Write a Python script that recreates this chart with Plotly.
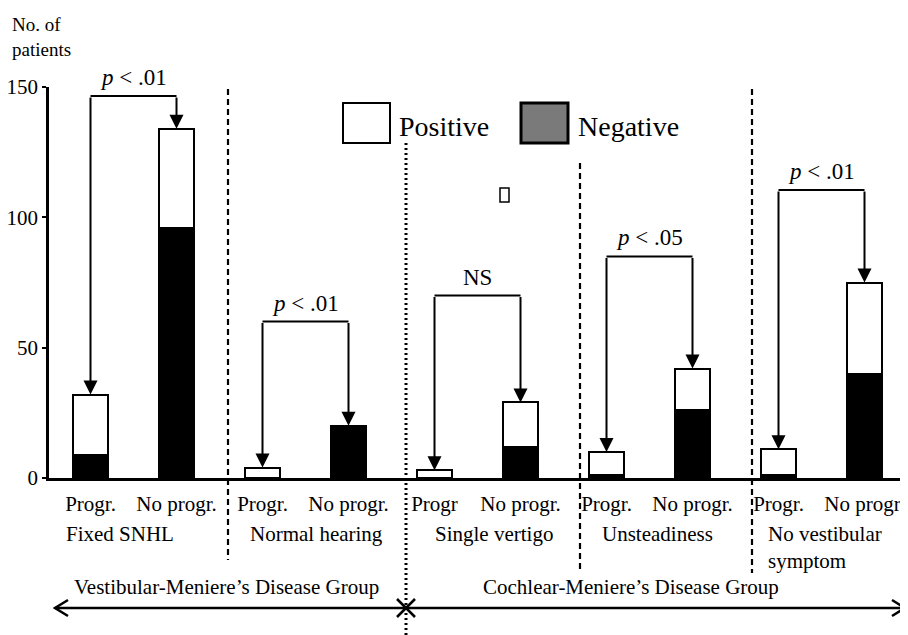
import plotly.graph_objects as go

# ---------------- data ----------------
bar_labels = ["Progr.", "No progr.", "Progr.", "No progr.", "Progr",
              "No progr.", "Progr.", "No progr.", "Progr.", "No progr."]
negative = [9, 96, 0, 20, 0, 12, 1, 26, 1, 40]
positive = [23, 38, 4, 0, 3, 17, 9, 16, 10, 35]
subgroups = ["Fixed SNHL", "Normal hearing", "Single vertigo", "Unsteadiness",
             "No vestibular<br>symptom"]
main_groups = ["Vestibular-Meniere\u2019s Disease Group", "Cochlear-Meniere\u2019s Disease Group"]
p_labels = ["<i>p</i> < .01", "<i>p</i> < .01", "NS", "<i>p</i> < .05", "<i>p</i> < .01"]
bracket_levels = [146.5, 60, 70, 85, 110.5]
y_ticks = [0, 50, 100, 150]

FONT = "Liberation Serif"
OFFX, OFFY = 8, 8                # default page body margin
W, H = 908 - OFFX, 635 - OFFY    # figure size
L, R, T, B = 49, 905, 87, 478    # plot area in page pixels


def px(xp):
    return (xp - L) / (R - L)


def py(yp):
    return (B - yp) / (B - T)


xs = list(range(len(bar_labels)))
totals = [n + p for n, p in zip(negative, positive)]

fig = go.Figure()
fig.add_trace(go.Bar(x=xs, y=negative, name="Negative", width=0.41,
                     marker=dict(color="black", line=dict(color="black", width=2))))
fig.add_trace(go.Bar(x=xs, y=positive, name="Positive", width=0.41,
                     marker=dict(color="white", line=dict(color="black", width=2))))

shapes = []
annotations = []

# brackets with arrows
for g, (lab, lev) in enumerate(zip(p_labels, bracket_levels)):
    i0, i1 = 2 * g, 2 * g + 1
    shapes.append(dict(type="line", xref="x", yref="y", x0=i0, x1=i1, y0=lev, y1=lev,
                       line=dict(color="black", width=2)))
    for i in (i0, i1):
        annotations.append(dict(x=i, y=totals[i], ax=i, ay=lev, xref="x", yref="y",
                                axref="x", ayref="y", text="", showarrow=True,
                                arrowhead=2, arrowsize=1.4, arrowwidth=2,
                                arrowcolor="black", standoff=0))
    annotations.append(dict(x=(i0 + i1) / 2, y=lev, xref="x", yref="y", text=lab,
                            showarrow=False, yanchor="bottom", yshift=4,
                            font=dict(family=FONT, size=23, color="black")))

# separator lines
seps = [(228, 89, 560, "dash"), (406, 143, 635, "dot"), (580, 163, 573, "dash"),
        (752, 89, 573, "dash")]
for xp, y0p, y1p, d in seps:
    shapes.append(dict(type="line", xref="paper", yref="paper", x0=px(xp), x1=px(xp),
                       y0=py(y0p), y1=py(y1p),
                       line=dict(color="black", width=2.2 if d == "dash" else 3,
                                 dash="6px,4px" if d == "dash" else "2px,3px")))

# bottom double arrow line
ya = 608
shapes.append(dict(type="line", xref="paper", yref="paper", x0=px(55), x1=px(905),
                   y0=py(ya), y1=py(ya), line=dict(color="black", width=2.5)))
for path_pts in ([(68, ya - 8), (55, ya), (68, ya + 8)],
                 [(892, ya - 8), (905, ya), (892, ya + 8)],
                 [(397, ya - 9), (415, ya + 9)],
                 [(397, ya + 9), (415, ya - 9)]):
    p = "M " + " L ".join(f"{px(a)},{py(b)}" for a, b in path_pts)
    shapes.append(dict(type="path", xref="paper", yref="paper", path=p,
                       line=dict(color="black", width=2.5)))

# legend boxes
shapes.append(dict(type="rect", xref="paper", yref="paper", x0=px(343), x1=px(390),
                   y0=py(143), y1=py(103), fillcolor="white",
                   line=dict(color="black", width=2)))
shapes.append(dict(type="rect", xref="paper", yref="paper", x0=px(521), x1=px(568),
                   y0=py(143), y1=py(103), fillcolor="#7a7a7a",
                   line=dict(color="black", width=3)))
annotations.append(dict(xref="paper", yref="paper", x=px(397), y=py(126), text="Positive",
                        showarrow=False, xanchor="left", yanchor="middle",
                        font=dict(family=FONT, size=28, color="black")))
annotations.append(dict(xref="paper", yref="paper", x=px(576), y=py(126), text="Negative",
                        showarrow=False, xanchor="left", yanchor="middle",
                        font=dict(family=FONT, size=28, color="black")))
# small stray box
shapes.append(dict(type="rect", xref="paper", yref="paper", x0=px(500), x1=px(509),
                   y0=py(202), y1=py(188), fillcolor="white",
                   line=dict(color="black", width=1.5)))

# y-axis title
annotations.append(dict(xref="paper", yref="paper", x=px(10), y=py(12), text="No. of<br>patients",
                        showarrow=False, xanchor="left", yanchor="top", align="left",
                        font=dict(family=FONT, size=19, color="black")))

# subgroup labels
sub_pos = [(120, "center"), (316, "center"), (494, "center"), (657, "center"), (766, "left")]
for lab, (xp, anc) in zip(subgroups, sub_pos):
    annotations.append(dict(xref="paper", yref="paper", x=px(xp), y=py(520), text=lab,
                            showarrow=False, xanchor=anc, yanchor="top", align="left",
                            font=dict(family=FONT, size=21, color="black")))
for lab, xp in zip(main_groups, [226, 631]):
    annotations.append(dict(xref="paper", yref="paper", x=px(xp), y=py(587), text=lab,
                            showarrow=False, xanchor="center", yanchor="middle",
                            font=dict(family=FONT, size=21, color="black")))

fig.update_layout(
    width=W, height=H, barmode="stack", showlegend=False,
    plot_bgcolor="white", paper_bgcolor="white",
    margin=dict(l=L - OFFX, r=W - (R - OFFX), t=T - OFFY, b=H - (B - OFFY), autoexpand=False),
    shapes=shapes, annotations=annotations,
    font=dict(family=FONT, size=21, color="black"),
    xaxis=dict(range=[(L - 90.5) / 86, (R - 90.5) / 86], tickmode="array", tickvals=xs,
               ticktext=bar_labels, showline=True, linecolor="black", linewidth=2.5,
               showgrid=False, zeroline=False, ticks="", ticklabelstandoff=5,
               automargin=False,
               tickfont=dict(family=FONT, size=21, color="black")),
    yaxis=dict(range=[0, 150], tickmode="array", tickvals=y_ticks,
               showline=True, linecolor="black", linewidth=2.5, showgrid=False,
               zeroline=False, ticks="outside", ticklen=4, tickwidth=2, tickcolor="black",
               automargin=False,
               tickfont=dict(family=FONT, size=21, color="black")),
)

fig.write_html("out.html")
